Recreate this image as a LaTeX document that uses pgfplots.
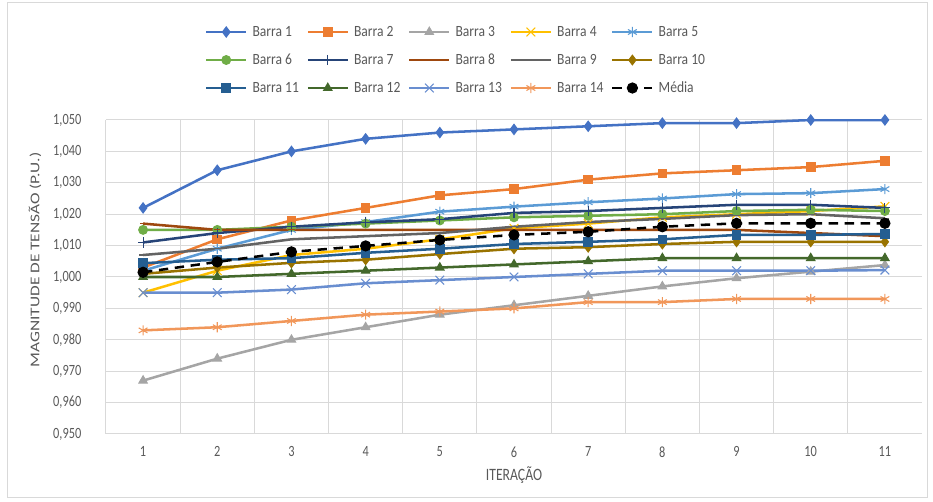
\documentclass[border=0pt]{standalone}
\usepackage{pgfplots}
\usepackage{pgfplotstable}
\pgfplotsset{compat=1.18}
\usepackage{fontspec}
\setmainfont[FakeStretch=0.79]{Carlito}
\newfontfamily\legf[FakeStretch=0.87]{Carlito}
\newfontfamily\ylabf[FakeStretch=1.3]{Carlito}
\definecolor{c1}{HTML}{4472C4}
\definecolor{c2}{HTML}{ED7D31}
\definecolor{c3}{HTML}{A5A5A5}
\definecolor{c4}{HTML}{FFC000}
\definecolor{c5}{HTML}{5B9BD5}
\definecolor{c6}{HTML}{70AD47}
\definecolor{c7}{HTML}{264478}
\definecolor{c8}{HTML}{9E480E}
\definecolor{c9}{HTML}{636363}
\definecolor{c10}{HTML}{997300}
\definecolor{c11}{HTML}{255E91}
\definecolor{c12}{HTML}{43682B}
\definecolor{c13}{HTML}{698ED0}
\definecolor{c14}{HTML}{F1975A}
\definecolor{txt}{HTML}{595959}
\definecolor{gridc}{HTML}{D9D9D9}
\newcommand{\lb}[1]{\makebox[31pt][l]{#1}}
\pgfplotstableread{
x b1 b2 b3 b4 b5 b6 b7 b8 b9 b10 b11 b12 b13 b14 m
1 1.022 1.003 0.967 0.995 1.002 1.015 1.011 1.017 1.007 1.001 1.0044 1.000 0.995 0.983 1.0015
2 1.034 1.012 0.974 1.002 1.009 1.015 1.014 1.015 1.009 1.003 1.0055 1.000 0.995 0.984 1.0048
3 1.040 1.018 0.980 1.007 1.015 1.016 1.016 1.015 1.012 1.0045 1.006 1.001 0.996 0.986 1.008
4 1.044 1.022 0.984 1.009 1.0175 1.017 1.0174 1.015 1.013 1.0055 1.0077 1.002 0.998 0.988 1.0099
5 1.046 1.026 0.988 1.012 1.0208 1.018 1.0184 1.015 1.014 1.0073 1.009 1.003 0.999 0.989 1.0118
6 1.047 1.028 0.991 1.0155 1.0224 1.019 1.0204 1.015 1.016 1.009 1.0105 1.004 1.000 0.990 1.0134
7 1.048 1.031 0.994 1.017 1.0238 1.0195 1.021 1.015 1.0175 1.0095 1.0112 1.005 1.001 0.992 1.0144
8 1.049 1.033 0.997 1.019 1.025 1.020 1.022 1.015 1.0185 1.0105 1.012 1.006 1.002 0.992 1.016
9 1.049 1.034 0.9996 1.020 1.0264 1.021 1.023 1.015 1.0197 1.0112 1.0134 1.006 1.002 0.993 1.0171
10 1.050 1.035 1.0017 1.021 1.0267 1.0214 1.023 1.014 1.020 1.0112 1.0134 1.006 1.002 0.993 1.0171
11 1.050 1.037 1.0038 1.0225 1.028 1.021 1.022 1.013 1.0187 1.0112 1.0137 1.006 1.0022 0.993 1.0171
}\data
\pgfplotsset{ser/.style={color=#1, line width=1.9pt, mark options={solid, fill=#1, draw=#1, line width=0.8pt}}}
\begin{document}
\begin{tikzpicture}
\useasboundingbox (0,0) rectangle (699.75pt,376.5pt);
\draw[color=gridc, line width=0.75pt] (5.25pt,3pt) rectangle (695.25pt,374.25pt);
\begin{axis}[
  at={(79.5pt,51pt)}, anchor=south west,
  scale only axis, width=612pt, height=235.5pt,
  xmin=0.5, xmax=11.5, ymin=0.95, ymax=1.05,
  xtick={1,2,3,4,5,6,7,8,9,10,11},
  ytick={0.95,0.96,0.97,0.98,0.99,1.00,1.01,1.02,1.03,1.04,1.05},
  minor xtick={0.5,1.5,2.5,3.5,4.5,5.5,6.5,7.5,8.5,9.5,10.5},
  xminorgrids, ymajorgrids,
  grid style={draw=gridc, line width=0.75pt},
  minor grid style={draw=gridc, line width=0.75pt},
  axis line style={draw=none},
  major tick length=0pt, minor tick length=0pt,
  /pgf/number format/assume math mode=true,
  tick label style={font=\fontsize{11.7}{14}\selectfont, text=txt},
  yticklabel style={xshift=-15pt, /pgf/number format/.cd, fixed, fixed zerofill, precision=3, use comma},
  xticklabel style={yshift=-6pt},
  xlabel={ITERAÇÃO},
  ylabel={\ylabf MAGNITUDE DE TENSÃO (P.U.)},
  label style={font=\fontsize{13}{15}\selectfont, text=txt},
  every axis y label/.style={at={(axis description cs:-0.087,0.554)}, rotate=90, anchor=center, font=\fontsize{10}{12}\selectfont, text=txt},
  every axis x label/.style={at={(axis description cs:0.5,-0.1306)}, anchor=center, font=\fontsize{13}{15}\selectfont, text=txt},
  legend columns=5,
  legend cell align=left,
  legend image code/.code={\draw[mark repeat=2,mark phase=2] plot coordinates {(0pt,0pt)(15pt,0pt)(30pt,0pt)};},
  legend style={draw=none, fill=none, inner sep=0pt, outer sep=0pt,
    at={(axis description cs:0.1213,1.2993)}, anchor=north west,
    font=\legf\fontsize{11.7}{14}\selectfont, text=txt,
    nodes={inner sep=0pt, text height=8pt, text depth=1pt},
    row sep=12pt,
    /tikz/every odd column/.append style={column sep=3.75pt},
    /tikz/every even column/.append style={column sep=9.5pt}},
]
\addplot[ser=c1, mark=diamond*, mark size=3.8pt] table[x=x,y=b1] {\data};
\addlegendentry{\lb{Barra 1}}
\addplot[ser=c2, mark=square*, mark size=3.2pt] table[x=x,y=b2] {\data};
\addlegendentry{\lb{Barra 2}}
\addplot[ser=c3, mark=triangle*, mark size=3.6pt] table[x=x,y=b3] {\data};
\addlegendentry{\lb{Barra 3}}
\addplot[ser=c4, mark=x, mark size=4.6pt] table[x=x,y=b4] {\data};
\addlegendentry{\lb{Barra 4}}
\addplot[ser=c5, mark=asterisk, mark size=3.8pt] table[x=x,y=b5] {\data};
\addlegendentry{\lb{Barra 5}}
\addplot[ser=c6, mark=*, mark size=3.3pt] table[x=x,y=b6] {\data};
\addlegendentry{\lb{Barra 6}}
\addplot[ser=c7, mark=+, mark size=3.8pt] table[x=x,y=b7] {\data};
\addlegendentry{\lb{Barra 7}}
\addplot[ser=c8, mark=-, mark size=2.3pt] table[x=x,y=b8] {\data};
\addlegendentry{\lb{Barra 8}}
\addplot[ser=c9, mark=-, mark size=3.4pt] table[x=x,y=b9] {\data};
\addlegendentry{\lb{Barra 9}}
\addplot[ser=c10, mark=diamond*, mark size=3.6pt] table[x=x,y=b10] {\data};
\addlegendentry{\lb{Barra 10}}
\addplot[ser=c11, mark=square*, mark size=3.2pt] table[x=x,y=b11] {\data};
\addlegendentry{\lb{Barra 11}}
\addplot[ser=c12, mark=triangle*, mark size=3.6pt] table[x=x,y=b12] {\data};
\addlegendentry{\lb{Barra 12}}
\addplot[ser=c13, mark=x, mark size=4.6pt] table[x=x,y=b13] {\data};
\addlegendentry{\lb{Barra 13}}
\addplot[ser=c14, mark=asterisk, mark size=3.8pt] table[x=x,y=b14] {\data};
\addlegendentry{\lb{Barra 14}}
\addplot[ser=black, dash pattern=on 7pt off 5pt, mark=*, mark size=3.8pt] table[x=x,y=m] {\data};
\addlegendentry{\lb{Média}}
\end{axis}
\end{tikzpicture}
\end{document}
